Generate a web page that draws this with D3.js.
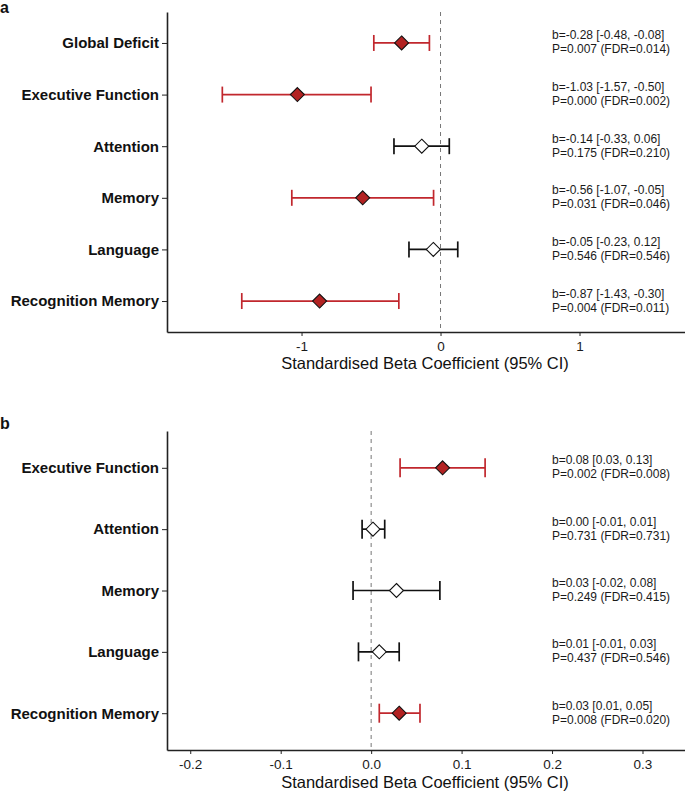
<!DOCTYPE html>
<html><head><meta charset="utf-8">
<script src="https://cdn.jsdelivr.net/npm/d3@7"></script>
<style>body{margin:0;background:#fff}svg{display:block}text{font-family:"Liberation Sans",Arial,Helvetica,sans-serif}</style>
</head><body>
<script>
// Panel a data
const catsA = ["Global Deficit","Executive Function","Attention","Memory","Language","Recognition Memory"];
const estA  = [-0.28,-1.03,-0.135,-0.56,-0.052,-0.87];
const lowA  = [-0.48,-1.57,-0.335,-1.07,-0.227,-1.43];
const highA = [-0.08,-0.50,0.063,-0.05,0.124,-0.30];
const sigA  = [true,true,false,true,false,true];
const lab1A = ["b=-0.28 [-0.48, -0.08]","b=-1.03 [-1.57, -0.50]","b=-0.14 [-0.33, 0.06]","b=-0.56 [-1.07, -0.05]","b=-0.05 [-0.23, 0.12]","b=-0.87 [-1.43, -0.30]"];
const lab2A = ["P=0.007 (FDR=0.014)","P=0.000 (FDR=0.002)","P=0.175 (FDR=0.210)","P=0.031 (FDR=0.046)","P=0.546 (FDR=0.546)","P=0.004 (FDR=0.011)"];
const ticksA = [-1,0,1];

// Panel b data
const catsB = ["Executive Function","Attention","Memory","Language","Recognition Memory"];
const estB  = [0.079,0.002,0.028,0.009,0.031];
const lowB  = [0.032,-0.010,-0.020,-0.014,0.009];
const highB = [0.126,0.015,0.076,0.031,0.054];
const sigB  = [true,false,false,false,true];
const lab1B = ["b=0.08 [0.03, 0.13]","b=0.00 [-0.01, 0.01]","b=0.03 [-0.02, 0.08]","b=0.01 [-0.01, 0.03]","b=0.03 [0.01, 0.05]"];
const lab2B = ["P=0.002 (FDR=0.008)","P=0.731 (FDR=0.731)","P=0.249 (FDR=0.415)","P=0.437 (FDR=0.546)","P=0.008 (FDR=0.020)"];
const ticksB = [-0.2,-0.1,0.0,0.1,0.2,0.3];

const W = 685, H = 791;
const RED_LINE = "#C1272D", RED_FILL = "#B22222";
const svg = d3.select("body").append("svg").attr("width", W).attr("height", H);

function panel(o){
  const g = svg.append("g");
  const x = d3.scaleLinear().domain(o.xdom).range([167, 685]);
  const y = d3.scalePoint().domain(o.cats).range([o.top, o.bottom]).padding(0.6);
  const step = y.step();
  const rows = o.cats.map((c,i)=>({c, est:o.est[i], lo:o.low[i], hi:o.high[i], sig:o.sig[i], l1:o.l1[i], l2:o.l2[i]}));

  // zero line
  g.append("line").attr("x1", x(0)).attr("x2", x(0)).attr("y1", o.top).attr("y2", o.bottom)
    .attr("stroke", "#777").attr("stroke-width", 1).attr("stroke-dasharray", "4,4");

  // error bars
  const cap = step*0.155;
  rows.forEach(r=>{
    const col = r.sig ? RED_LINE : "#111";
    const yy = y(r.c);
    g.append("line").attr("x1", x(r.lo)).attr("x2", x(r.hi)).attr("y1", yy).attr("y2", yy).attr("stroke", col).attr("stroke-width", 1.7);
    [r.lo, r.hi].forEach(v=>{
      g.append("line").attr("x1", x(v)).attr("x2", x(v)).attr("y1", yy-cap).attr("y2", yy+cap).attr("stroke", col).attr("stroke-width", 1.7);
    });
    const s = 7;
    const cx = x(r.est);
    g.append("path").attr("d", `M${cx},${yy-s}L${cx+s},${yy}L${cx},${yy+s}L${cx-s},${yy}Z`)
      .attr("fill", r.sig ? RED_FILL : "#fff").attr("stroke", "#111").attr("stroke-width", 1.1);
    g.append("text").attr("x", 552).attr("y", yy-3.5).attr("font-size", 12).attr("fill", "#1a1a1a").text(r.l1);
    g.append("text").attr("x", 552).attr("y", yy+10.5).attr("font-size", 12).attr("fill", "#1a1a1a").text(r.l2);
  });

  // axes
  const fmt = o.fmt;
  const xa = g.append("g").attr("transform", `translate(0,${o.bottom})`)
    .call(d3.axisBottom(x).tickValues(o.ticks).tickSize(4).tickSizeOuter(0).tickPadding(5).tickFormat(fmt));
  xa.select(".domain").attr("stroke", "#222").attr("stroke-width", 1.6);
  xa.selectAll(".tick line").attr("stroke", "#222").attr("stroke-width", 1);
  xa.selectAll(".tick text").attr("font-size", 13.5).attr("fill", "#1a1a1a").attr("font-family", '"Liberation Sans",Arial,sans-serif');

  const ya = g.append("g").attr("transform", `translate(167,0)`)
    .call(d3.axisLeft(y).tickSize(5).tickSizeOuter(0).tickPadding(3));
  ya.select(".domain").attr("stroke", "#222").attr("stroke-width", 1.6);
  ya.selectAll(".tick line").attr("stroke", "#222").attr("stroke-width", 1);
  ya.selectAll(".tick text").attr("font-size", 15).attr("font-weight", "bold").attr("fill", "#111")
    .attr("font-family", '"Liberation Sans",Arial,sans-serif');

  g.append("text").attr("x", 425).attr("y", o.titleY).attr("text-anchor", "middle").attr("font-size", 16.5).attr("fill", "#111")
    .text("Standardised Beta Coefficient (95% CI)");
  g.append("text").attr("x", 0).attr("y", o.labY).attr("font-size", 16).attr("font-weight", "bold").attr("fill", "#111").text(o.label);
}

const hyph = f => v => d3.format(f)(v).replace("\u2212", "-");
panel({cats:catsA, est:estA, low:lowA, high:highA, sig:sigA, l1:lab1A, l2:lab2A, ticks:ticksA,
  xdom:[-1.968, 1.759], top:12, bottom:332, titleY:369, labY:13, label:"a", fmt:hyph("d")});
panel({cats:catsB, est:estB, low:lowB, high:highB, sig:sigB, l1:lab1B, l2:lab2B, ticks:ticksB,
  xdom:[-0.2257, 0.347], top:431, bottom:750, titleY:788, labY:429, label:"b", fmt:hyph(".1f")});
</script>
</body></html>
